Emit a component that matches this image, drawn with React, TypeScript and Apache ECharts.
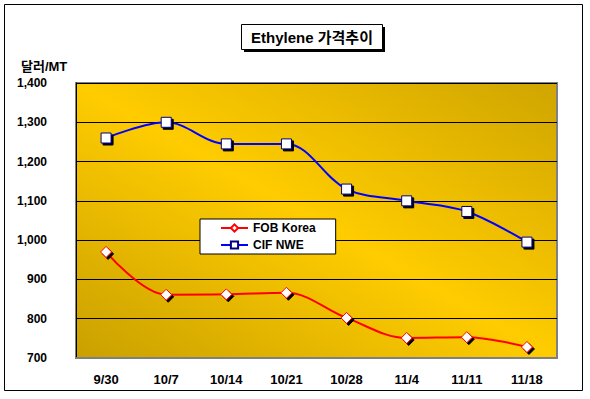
import React, { useEffect, useRef } from "react";
import * as echarts from "echarts";

const categories = ["9/30", "10/7", "10/14", "10/21", "10/28", "11/4", "11/11", "11/18"];
const fobKorea = [970, 861, 862, 866, 802, 751, 753, 728];
const cifNwe = [1260, 1300, 1245, 1245, 1130, 1100, 1073, 995];
const yTicks = { min: 700, max: 1400, interval: 100 };

const FONT = "'Liberation Sans', Arial, 'Noto Sans CJK KR', sans-serif";

export default function App() {
  const ref = useRef<HTMLDivElement>(null);
  useEffect(() => {
    if (!ref.current) return;
    const chart = echarts.init(ref.current, null, { renderer: "svg" });
    const markerShadow = {
      shadowColor: "#000",
      shadowBlur: 0,
      shadowOffsetX: 2,
      shadowOffsetY: 2,
    };
    chart.setOption({
      animation: false,
      backgroundColor: "#fff",
      textStyle: { fontFamily: FONT },
      graphic: [
        {
          type: "rect",
          shape: { x: 4.5, y: 4.5, width: 578, height: 386 },
          style: { fill: "none", stroke: "#000", lineWidth: 1 },
          silent: true,
        },
        {
          type: "rect",
          shape: { x: 244, y: 27, width: 141, height: 25 },
          style: { fill: "#000" },
          silent: true,
        },
        {
          type: "rect",
          shape: { x: 241.5, y: 24.5, width: 141, height: 25 },
          style: { fill: "#fff", stroke: "#000", lineWidth: 1 },
          silent: true,
        },
        {
          type: "text",
          x: 312,
          y: 37,
          style: {
            text: "Ethylene 가격추이",
            fill: "#000",
            font: `bold 15px ${FONT}`,
            align: "center",
            verticalAlign: "middle",
          },
          silent: true,
        },
        {
          type: "text",
          x: 21,
          y: 66,
          style: {
            text: "달러/MT",
            fill: "#000",
            font: `bold 13px ${FONT}`,
            align: "left",
            verticalAlign: "middle",
          },
          silent: true,
        },
      ],
      legend: {
        orient: "vertical",
        left: 200,
        top: 219,
        backgroundColor: "#fff",
        borderColor: "#000",
        borderWidth: 1,
        padding: [3, 20, 3, 20],
        itemWidth: 27,
        itemHeight: 9,
        itemGap: 5,
        textStyle: { fontFamily: FONT, fontWeight: "bold", fontSize: 12, color: "#000" },
        data: ["FOB Korea", "CIF NWE"],
      },
      grid: {
        left: 76,
        top: 83,
        width: 481,
        height: 275,
        show: true,
        borderColor: "#808080",
        borderWidth: 2,
        backgroundColor: new echarts.graphic.LinearGradient(0, 1, 1, 0, [
          { offset: 0, color: "#C9A000" },
          { offset: 0.5, color: "#FFCC00" },
          { offset: 1, color: "#CFA500" },
        ]),
      },
      xAxis: {
        type: "category",
        data: categories,
        boundaryGap: true,
        axisLine: { lineStyle: { color: "#808080", width: 2 } },
        axisTick: { inside: true, length: 4, lineStyle: { color: "#000", width: 1 } },
        axisLabel: {
          margin: 15,
          color: "#000",
          fontWeight: "bold",
          fontSize: 13,
          fontFamily: FONT,
        },
      },
      yAxis: {
        type: "value",
        min: yTicks.min,
        max: yTicks.max,
        interval: yTicks.interval,
        axisLine: { show: true, lineStyle: { color: "#000", width: 1 } },
        axisTick: { show: false },
        splitLine: { lineStyle: { color: "#000", width: 1 } },
        axisLabel: {
          margin: 29,
          color: "#000",
          fontWeight: "bold",
          fontSize: 12,
          fontFamily: FONT,
          formatter: (v: number) => v.toLocaleString("en-US"),
        },
      },
      series: [
        {
          name: "FOB Korea",
          type: "line",
          data: fobKorea,
          smooth: 0.35,
          symbol: "diamond",
          symbolSize: 11,
          lineStyle: { color: "#FF0000", width: 2 },
          itemStyle: { color: "#fff", borderColor: "#FF0000", borderWidth: 1, ...markerShadow },
        },
        {
          name: "CIF NWE",
          type: "line",
          data: cifNwe,
          smooth: 0.35,
          symbol: "rect",
          symbolSize: 10,
          lineStyle: { color: "#0000FF", width: 2 },
          itemStyle: { color: "#fff", borderColor: "#000080", borderWidth: 1, ...markerShadow },
        },
      ],
    });
    return () => chart.dispose();
  }, []);
  return (
    <div
      ref={ref}
      style={{ position: "fixed", left: 0, top: 0, width: 590, height: 399, background: "#fff" }}
    />
  );
}
